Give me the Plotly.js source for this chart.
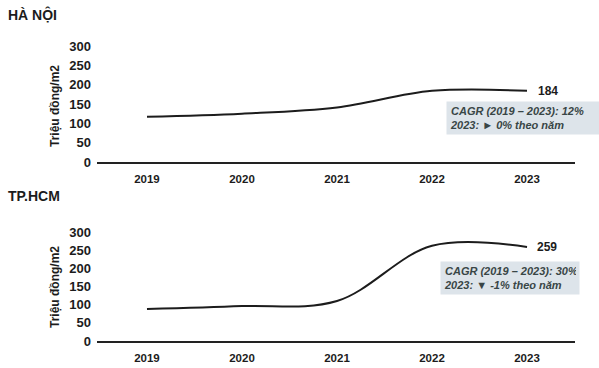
<!DOCTYPE html>
<html>
<head>
<meta charset="utf-8">
<script src="https://cdn.plot.ly/plotly-3.0.1.min.js"></script>
<style>
  html, body { margin: 0; padding: 0; background: #fff; }
  #chart { width: 599px; height: 368px; }
</style>
</head>
<body>
<div id="chart"></div>
<script>
// Giá bán trung bình căn hộ (triệu đồng/m2)
const years = [2019, 2020, 2021, 2022, 2023];
const yearLabels = ['2019', '2020', '2021', '2022', '2023'];
const hanoiPrice = [117, 125, 141, 184, 184];
const hcmPrice = [88, 96, 110, 262, 259];
const yTicks = [0, 50, 100, 150, 200, 250, 300];
const cityNames = ['HÀ NỘI', 'TP.HCM'];
const hanoiNote = 'CAGR (2019 – 2023): 12%<br>2023: ► 0% theo năm';
const hcmNote = 'CAGR (2019 – 2023): 30%<br>2023: ▼ -1% theo năm';
const yTitle = 'Triệu đồng/m2';

const W = 599, H = 368;
const px = v => v / W;
const py = v => 1 - v / H;

const FONT = 'Liberation Sans, Arial, sans-serif';
const ink = '#1c1c1c';

const lineStyle = { color: ink, width: 2, shape: 'spline', smoothing: 1 };

const traces = [
  { x: years, y: hanoiPrice, xaxis: 'x', yaxis: 'y', mode: 'lines', line: lineStyle, hoverinfo: 'skip' },
  { x: years, y: hcmPrice, xaxis: 'x2', yaxis: 'y2', mode: 'lines', line: lineStyle, hoverinfo: 'skip' }
];

const xRange = [2018.474, 2023.505];
const xDomain = [px(97), px(575)];

function xAxis(anchor) {
  return {
    anchor: anchor, domain: xDomain, range: xRange,
    tickmode: 'array', tickvals: years, ticktext: yearLabels,
    showgrid: false, zeroline: false,
    showline: true, linecolor: '#222', linewidth: 2,
    ticks: '', ticklabelstandoff: 5,
    tickfont: { family: FONT, size: 11.5, color: ink, weight: 'bold' }
  };
}
function yAxis(anchor, top, bottom) {
  return {
    anchor: anchor, domain: [py(bottom), py(top)], range: [0, 300],
    tickmode: 'array', tickvals: yTicks,
    showgrid: false, zeroline: false, showline: false,
    ticks: '', ticklabelstandoff: 5,
    tickfont: { family: FONT, size: 13, color: ink, weight: 'bold' }
  };
}

const annotations = [
  { text: '<b>' + cityNames[0] + '</b>', xref: 'paper', yref: 'paper', x: px(6), y: py(14),
    xanchor: 'left', yanchor: 'middle', showarrow: false, font: { family: FONT, size: 14, color: ink } },
  { text: '<b>' + cityNames[1] + '</b>', xref: 'paper', yref: 'paper', x: px(6), y: py(196),
    xanchor: 'left', yanchor: 'middle', showarrow: false, font: { family: FONT, size: 14, color: ink } },
  { text: '<b>' + yTitle + '</b>', xref: 'paper', yref: 'paper', x: px(55), y: py(106), textangle: -90,
    xanchor: 'center', yanchor: 'middle', showarrow: false, font: { family: FONT, size: 12, color: ink } },
  { text: '<b>' + yTitle + '</b>', xref: 'paper', yref: 'paper', x: px(55), y: py(287), textangle: -90,
    xanchor: 'center', yanchor: 'middle', showarrow: false, font: { family: FONT, size: 12, color: ink } },
  { text: '<b>' + hanoiPrice[4] + '</b>', xref: 'x', yref: 'y', x: years[4], y: hanoiPrice[4],
    xanchor: 'left', yanchor: 'middle', xshift: 9, showarrow: false, font: { family: FONT, size: 12, color: ink } },
  { text: '<b>' + hcmPrice[4] + '</b>', xref: 'x2', yref: 'y2', x: years[4], y: hcmPrice[4],
    xanchor: 'left', yanchor: 'middle', xshift: 8, showarrow: false, font: { family: FONT, size: 12, color: ink } },
  { text: '<b><i>' + hanoiNote + '</i></b>', xref: 'paper', yref: 'paper', x: px(446), y: py(101),
    xanchor: 'left', yanchor: 'top', align: 'left', showarrow: false,
    bgcolor: '#dde4ea', borderpad: 3, width: 150,
    font: { family: FONT, size: 11, color: '#394646' } },
  { text: '<b><i>' + hcmNote + '</i></b>', xref: 'paper', yref: 'paper', x: px(440), y: py(261),
    xanchor: 'left', yanchor: 'top', align: 'left', showarrow: false,
    bgcolor: '#dde4ea', borderpad: 3, width: 132,
    font: { family: FONT, size: 11, color: '#394646' } }
];

const layout = {
  width: W, height: H,
  margin: { l: 0, r: 0, t: 0, b: 0 },
  paper_bgcolor: '#fff', plot_bgcolor: '#fff',
  showlegend: false,
  xaxis: xAxis('y'), yaxis: yAxis('x', 46, 162),
  xaxis2: xAxis('y2'), yaxis2: yAxis('x2', 232, 341),
  annotations: annotations
};

Plotly.newPlot('chart', traces, layout, { staticPlot: true, displayModeBar: false });
</script>
</body>
</html>
